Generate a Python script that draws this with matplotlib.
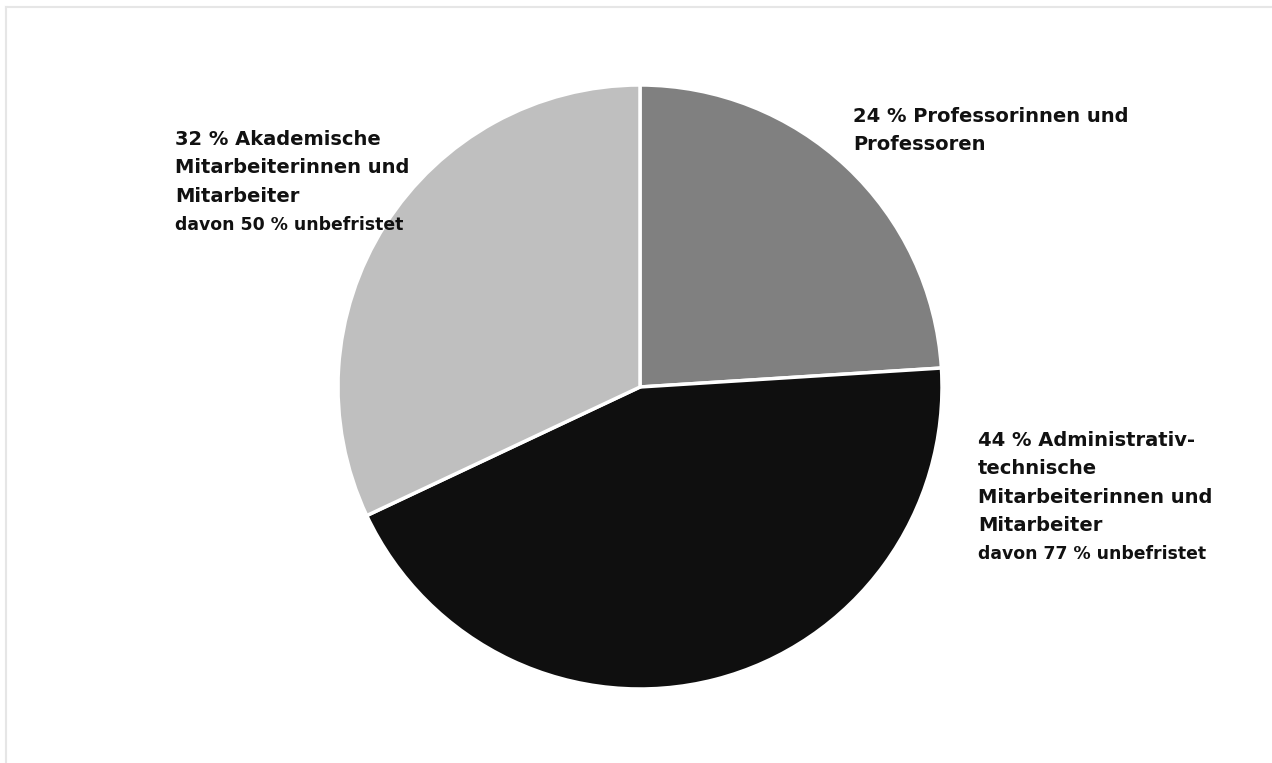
import matplotlib
matplotlib.use("Agg")
import matplotlib.pyplot as plt
from matplotlib.lines import Line2D

plt.rcParams['font.family'] = ['DejaVu Sans']

# Personalstruktur
anteile = [24, 44, 32]
farben = ['#808080', '#0f0f0f', '#bfbfbf']
titel = [
    ['24 % Professorinnen und', 'Professoren'],
    ['44 % Administrativ-', 'technische', 'Mitarbeiterinnen und', 'Mitarbeiter'],
    ['32 % Akademische', 'Mitarbeiterinnen und', 'Mitarbeiter'],
]
unbefristet = [None, 77, 50]

W, H = 1272, 763
fig = plt.figure(figsize=(W / 100, H / 100), dpi=100)
ax = fig.add_axes([0, 0, 1, 1])
ax.set_aspect('equal')
ax.axis('off')

ax.pie(anteile, colors=farben, startangle=90, counterclock=False,
       center=(640, H - 387), radius=302,
       wedgeprops=dict(edgecolor='white', linewidth=2.5))
ax.set_xlim(0, W)
ax.set_ylim(0, H)

# Rahmenlinien oben und links
fig.add_artist(Line2D([6 / W, 1], [1 - 7 / H, 1 - 7 / H], color='#e6e6e6', lw=1.5))
fig.add_artist(Line2D([6 / W, 6 / W], [0, 1 - 7 / H], color='#e6e6e6', lw=1.5))

# Beschriftungen: x und Grundlinie der ersten Zeile in Pixeln
positionen = [(853, 122), (978, 446), (175, 145)]
zeilenabstand = 28.3
for zeilen, u, (x, y) in zip(titel, unbefristet, positionen):
    for i, z in enumerate(zeilen):
        ax.text(x, H - (y + i * zeilenabstand), z, ha='left', va='baseline',
                fontsize=14, fontweight='bold', color='#111111')
    if u is not None:
        ax.text(x, H - (y + len(zeilen) * zeilenabstand),
                f'davon {u} % unbefristet', ha='left', va='baseline',
                fontsize=12.4, fontweight='bold', color='#111111')

fig.savefig('out.png', dpi=100, facecolor='white')
